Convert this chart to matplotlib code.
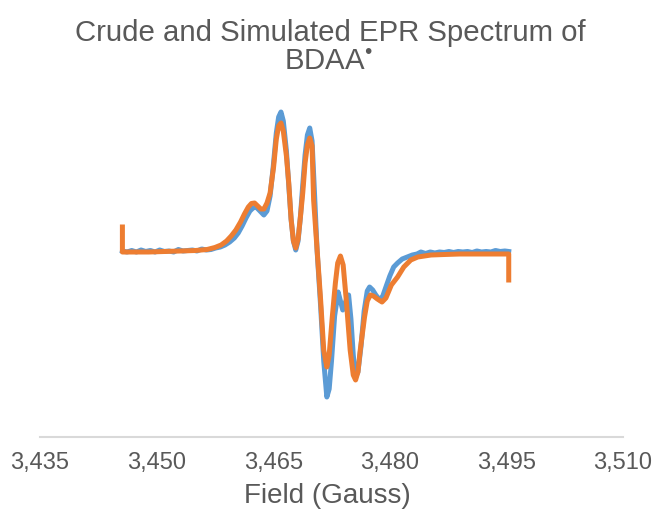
import matplotlib
matplotlib.use("Agg")
import matplotlib.pyplot as plt
from matplotlib.ticker import FuncFormatter

plt.rcParams['font.family'] = ['Liberation Sans', 'DejaVu Sans']
plt.rcParams['mathtext.fontset'] = 'custom'
plt.rcParams['mathtext.rm'] = 'Liberation Sans'
plt.rcParams['mathtext.it'] = 'Liberation Sans'
plt.rcParams['mathtext.bf'] = 'Liberation Sans:bold'

# crude spectrum (field in Gauss, intensity in arbitrary units)
crude_x = [3445.6, 3446.2, 3446.8, 3447.4, 3448.0, 3448.6, 3449.2, 3449.8, 3450.4, 3451.0,
           3451.6, 3452.2, 3452.8, 3453.4, 3454.0, 3454.6, 3455.2, 3455.8, 3456.4, 3457.0,
           3457.6, 3458.2, 3458.8, 3459.4, 3460.0, 3460.5, 3461.0, 3461.5, 3462.0, 3462.4,
           3462.8, 3463.3, 3463.8, 3464.2, 3464.6, 3465.0, 3465.4, 3465.7, 3466.0, 3466.3,
           3466.7, 3467.0, 3467.3, 3467.6, 3467.9, 3468.2, 3468.5, 3468.8, 3469.1, 3469.4,
           3469.7, 3470.0, 3470.3, 3470.65, 3471.1, 3471.5, 3471.9, 3472.2, 3472.5, 3472.9,
           3473.35, 3473.65, 3473.95, 3474.35, 3474.7, 3475.0, 3475.3, 3475.6, 3475.9, 3476.3,
           3476.7, 3477.1, 3477.4, 3477.8, 3478.2, 3478.7, 3479.1, 3479.5, 3480.0, 3480.5,
           3481.0, 3481.6, 3482.25, 3482.9, 3483.5, 3484.0, 3484.6, 3485.2, 3485.8, 3486.4,
           3487.0, 3487.6, 3488.2, 3488.8, 3489.4, 3490.0, 3490.6, 3491.2, 3491.8, 3492.4,
           3493.0, 3493.6, 3494.2, 3494.8, 3495.3]
crude_y = [0, -1, 0.5, -1, 1, -0.5, 0.5, -1, 1, -0.5,
           0, -1, 1.5, 0, 0.5, 1, 0, 2, 1, 1.5,
           3, 4, 6, 9, 13, 18, 25, 33, 40, 43,
           44, 40, 36, 40, 55, 84, 118, 134, 139, 130,
           100, 66, 32, 10, 1, 10, 34, 66, 96, 116,
           123, 110, 60, 0, -55, -110, -146, -138, -110, -65,
           -41, -50, -59, -50, -44, -68, -104, -126, -121, -95,
           -60, -40, -36, -39, -44, -49, -45, -36, -25, -16,
           -12, -8, -6, -4, -3, -1, -2.5, -1, -2, -1,
           -1.5, -0.5, -1.5, -0.5, -1, -0.5, -1.5, 0, -1, -0.5,
           -1, 0.5, -0.5, 0, -0.5]

# simulated spectrum
sim_x = [3445.6, 3445.6, 3447.0, 3449.0, 3451.0, 3453.0, 3455.0, 3456.5, 3457.5, 3458.3,
         3459.0, 3459.6, 3460.2, 3460.8, 3461.3, 3461.8, 3462.2, 3462.6, 3463.0, 3463.4,
         3463.8, 3464.2, 3464.6, 3465.05, 3465.4, 3465.7, 3466.0, 3466.3, 3466.7, 3467.0,
         3467.3, 3467.6, 3467.9, 3468.2, 3468.5, 3468.8, 3469.1, 3469.4, 3469.7, 3470.0,
         3470.2, 3470.65, 3471.1, 3471.5, 3471.9, 3472.2, 3472.6, 3473.0, 3473.3, 3473.65,
         3474.0, 3474.4, 3474.9, 3475.3, 3475.6, 3475.9, 3476.2, 3476.75, 3477.1, 3477.5,
         3477.9, 3478.4, 3479.0, 3479.5, 3480.2, 3481.0, 3481.8, 3482.7, 3483.6, 3485.3,
         3487.0, 3489.0, 3491.0, 3493.0, 3495.3, 3495.3]
sim_y = [24, -1, -1, -1, -0.5, 0, 0.5, 1.5, 3.5, 6,
         10, 15, 21, 29, 37, 44, 47.5, 48, 45, 42,
         42, 48, 58, 84, 112, 125, 128, 120, 95, 68,
         32, 10, 3, 12, 34, 58, 88, 106, 113, 105,
         51, 1, -49, -99, -116, -104, -66, -32, -12, -5,
         -14, -49, -99, -124, -129, -121, -99, -66, -50, -44,
         -45, -48, -51, -47, -34, -26, -16, -9, -6, -4,
         -3.5, -3, -3, -3, -3, -29]

field_ticks = [3435, 3450, 3465, 3480, 3495, 3510]

grey = '#595959'
fig = plt.figure(figsize=(6.55, 5.09), dpi=100)
ax = fig.add_axes([40 / 655, 72 / 509, 583 / 655, 346 / 509])

ax.plot(crude_x, crude_y, color='#5B9BD5', lw=3.6, solid_joinstyle='round')
ax.plot(sim_x, sim_y, color='#ED7D31', lw=3.6, solid_joinstyle='round')

ax.set_xlim(3435, 3510)
ax.set_ylim(-186, 160)
ax.set_xticks(field_ticks)
ax.xaxis.set_major_formatter(FuncFormatter(lambda v, p: f'{v:,.0f}'))
ax.tick_params(axis='x', length=0, pad=11, labelsize=17, labelcolor=grey)
ax.set_yticks([])
for s in ['top', 'right', 'left']:
    ax.spines[s].set_visible(False)
ax.spines['bottom'].set_color('#D9D9D9')
ax.spines['bottom'].set_linewidth(1.5)

fig.text(0.5, 1 - 503 / 509, 'Field (Gauss)', ha='center', va='baseline',
         fontsize=20, color=grey)
fig.text(0.504, 1 - 41 / 509, 'Crude and Simulated EPR Spectrum of', ha='center',
         va='baseline', fontsize=21.2, color=grey)
fig.text(328 / 655, 1 - 70 / 509, 'BDAA$^{\u2022}$', ha='center', va='baseline',
         fontsize=21.2, color=grey)

fig.savefig('out.png', dpi=100)
